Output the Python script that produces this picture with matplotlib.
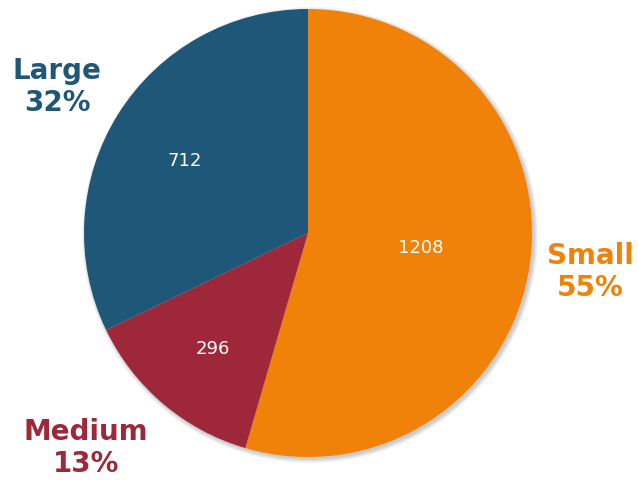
import matplotlib
matplotlib.use("Agg")
import matplotlib.pyplot as plt
from matplotlib.patches import Circle

# segment sizes
labels = ["Small", "Medium", "Large"]
counts = [1208, 296, 712]
colors = ["#F0820A", "#9E2839", "#1E5778"]

total = sum(counts)

fig = plt.figure(figsize=(6.38, 4.81), dpi=100)
ax = fig.add_axes([0, 0, 1, 1])

cx, cy, r = 308, 247, 224

# soft drop shadow
for i in range(6):
    ax.add_patch(Circle((cx + 2, cy - 2), r + 4 - i * 0.8, color="#000000",
                        alpha=0.035, lw=0, zorder=0))

wedges, texts, autotexts = ax.pie(
    counts,
    colors=colors,
    labels=[f"{l}\n{c / total * 100:.0f}%" for l, c in zip(labels, counts)],
    autopct=lambda p: f"{round(p * total / 100)}",
    startangle=90,
    counterclock=False,
    center=(cx, cy),
    radius=r,
    labeldistance=1.3,
    pctdistance=0.6,
    wedgeprops=dict(linewidth=0),
    frame=True,
)
ax.set_xlim(0, 638)
ax.set_ylim(0, 481)
ax.set_aspect("equal")
ax.axis("off")

# outer category labels and inner counts, nudged into place
label_pos = [(590, 209), (86, 33), (57, 394)]
value_pos = [(421, 233), (213, 132), (185, 320)]

for t, c, p in zip(texts, colors, label_pos):
    t.set_color(c)
    t.set_fontsize(20)
    t.set_fontweight("bold")
    t.set_ha("center")
    t.set_va("center")
    t.set_linespacing(1.2)
    t.set_position(p)

for t, p in zip(autotexts, value_pos):
    t.set_color("white")
    t.set_fontsize(13)
    t.set_position(p)

fig.savefig("out.png", dpi=100)
